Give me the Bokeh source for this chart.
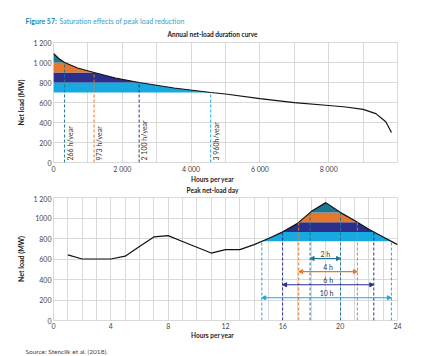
import numpy as np
from bokeh.plotting import figure
from bokeh.layouts import column
from bokeh.models import Arrow, NormalHead, FixedTicker, SingleIntervalTicker, Range1d
from bokeh.embed import file_html
from bokeh.resources import INLINE
from bokeh.core.properties import value

# ---------------- data ----------------
# Annual net-load duration curve
dur_hours = [0, 150, 322, 700, 1180, 1800, 2490, 3500, 4570, 5000, 6000, 7000, 8000, 8500, 9000, 9370, 9660, 9825]
dur_load = [1090, 1040, 1000, 945, 900, 845, 800, 745, 700, 685, 638, 598, 570, 555, 531, 489, 408, 300]
dur_thresholds = [700, 800, 900, 1000]
dur_labels = ["3 960h/year", "2 100 h/year", "973 h/year", "266 h/year"]

# Peak net-load day
day_hours = list(range(1, 25))
day_load = [640, 600, 600, 600, 628, 722, 815, 828, 771, 715, 658, 692,
            692, 740, 800, 865, 945, 1065, 1150, 1055, 975, 890, 815, 740]
day_thresholds = [772, 864, 958, 1053]
day_labels = ["10 h", "6 h", "4 h", "2 h"]
day_peak_from_hour = 13  # evening peak window that is shaved

top_xticks = [0, 2000, 4000, 6000, 8000]
top_xlabels = ["0", "2 000", "4 000", "6 000", "8 000"]
top_ylabels = ["0", "200", "400", "600", "800", "1 000", "1 200"]
bot_xticks = [0, 4, 8, 12, 16, 20, 24]
bot_ylabels = ["0", "200", "400", "600", "800", "1000", "1 200"]
yticks = [0, 200, 400, 600, 800, 1000, 1200]

band_colors = ["#18a9e1", "#2a2f8b", "#e5782c", "#1c7696"]
FONT = "Lato"
GRID = "#d9d9d9"
W = 425


def crossings(xs, ys, t):
    out = []
    for i in range(len(xs) - 1):
        y0, y1 = ys[i], ys[i + 1]
        if y0 == t:
            out.append(xs[i])
        elif (y0 - t) * (y1 - t) < 0:
            out.append(xs[i] + (t - y0) * (xs[i + 1] - xs[i]) / (y1 - y0))
    if ys[-1] == t:
        out.append(xs[-1])
    return out


def style(p, xticks, xlabels, ylabels, grid_interval):
    p.outline_line_color = GRID
    p.xaxis.ticker = FixedTicker(ticks=xticks)
    p.xaxis.major_label_overrides = {t: l for t, l in zip(xticks, xlabels)}
    p.yaxis.ticker = FixedTicker(ticks=yticks)
    p.yaxis.major_label_overrides = {t: l for t, l in zip(yticks, ylabels)}
    p.xgrid.ticker = SingleIntervalTicker(interval=grid_interval)
    p.ygrid.ticker = FixedTicker(ticks=yticks)
    for g in (p.xgrid, p.ygrid):
        g.grid_line_color = GRID
        g.grid_line_width = 1
    for ax in (p.xaxis, p.yaxis):
        ax.axis_line_color = None
        ax.major_tick_line_color = None
        ax.minor_tick_line_color = None
        ax.major_tick_out = 0
        ax.major_tick_in = 0
        ax.minor_tick_out = 0
        ax.minor_tick_in = 0
        ax.major_label_text_font = FONT
        ax.major_label_text_font_size = "7px"
        ax.major_label_text_color = "#444444"
        ax.major_label_standoff = 2
    p.yaxis.axis_label = "Net load (MW)"
    p.yaxis.axis_label_text_font = FONT
    p.yaxis.axis_label_text_font_size = "7px"
    p.yaxis.axis_label_text_font_style = "bold"
    p.yaxis.axis_label_text_color = "#222222"
    p.yaxis.axis_label_standoff = 5


def draw_bands(p, xs, ys, thresholds):
    cross = {t: crossings(xs, ys, t) for t in thresholds}
    allx = sorted(set(list(xs) + [c for t in thresholds for c in cross[t]]))
    ally = np.interp(allx, xs, ys)
    tops = thresholds[1:] + [max(ys)]
    for lo, hi, c in zip(thresholds, tops, band_colors):
        y2 = np.clip(ally, lo, hi)
        p.varea(x=allx, y1=[lo] * len(allx), y2=y2, fill_color=c, fill_alpha=1)
    return cross


def strip(h):
    s = figure(width=W, height=h, output_backend="svg", toolbar_location=None,
               x_range=Range1d(0, W), y_range=Range1d(h, 0),
               x_axis_location=None, y_axis_location=None, frame_align=False,
               min_border=0, min_border_left=0, min_border_right=0,
               min_border_top=0, min_border_bottom=0)
    s.grid.visible = False
    s.outline_line_color = None
    return s


def stext(s, x, y, txt, size="7px", bold=False, color="#222222", align="left"):
    s.text(x=[x], y=[y], text=[txt], text_align=align, text_baseline="middle",
           text_font=value(FONT), text_font_size=size,
           text_font_style="bold" if bold else "normal", text_color=color)


# ---------------- header ----------------
head = strip(38)
stext(head, 25, 20, "Figure 57:", size="7px", bold=True, color="#1a86b0")
stext(head, 59, 20, "Saturation effects of peak load reduction", size="7px", color="#3a9cc6")
stext(head, 212, 34, "Annual net-load duration curve", size="6.5px", bold=True, align="center")

# ---------------- top chart ----------------
p1 = figure(width=W, height=137, output_backend="svg", toolbar_location=None,
            x_range=Range1d(0, 10000), y_range=Range1d(0, 1200),
            min_border_left=53, min_border_right=28, min_border_top=4, min_border_bottom=10)
style(p1, top_xticks, top_xlabels, top_ylabels, 1000)
cross1 = draw_bands(p1, dur_hours, dur_load, dur_thresholds)
p1.line(dur_hours, dur_load, line_color="#111111", line_width=1.2)
for t, c, txt in zip(dur_thresholds, band_colors, dur_labels):
    cx = cross1[t][0]
    p1.segment(x0=[cx], y0=[0], x1=[cx], y1=[t], line_color=c, line_width=1, line_dash="3 2")
    p1.text(x=[cx], y=[20], text=[txt], angle=np.pi / 2, text_align="left",
            text_baseline="top", x_offset=1, text_font=value(FONT),
            text_font_size="7px", text_color="#333333")

# ---------------- middle strip ----------------
mid = strip(19)
stext(mid, 212, 4, "Hours per year", size="6.5px", bold=True, align="center")
stext(mid, 212, 15, "Peak net-load day", size="6.5px", bold=True, align="center")

# ---------------- bottom chart ----------------
p2 = figure(width=W, height=137, output_backend="svg", toolbar_location=None,
            x_range=Range1d(0, 24), y_range=Range1d(0, 1200),
            min_border_left=53, min_border_right=28, min_border_top=3, min_border_bottom=11)
style(p2, bot_xticks, [str(t) for t in bot_xticks], bot_ylabels, 1)
peak_x = [h for h in day_hours if h >= day_peak_from_hour]
peak_y = [l for h, l in zip(day_hours, day_load) if h >= day_peak_from_hour]
cross2 = draw_bands(p2, peak_x, peak_y, day_thresholds)
p2.line(day_hours, day_load, line_color="#111111", line_width=1.2)
arrow_y = [222, 349, 477, 605]
for t, c, txt, ay in zip(day_thresholds, band_colors, day_labels, arrow_y):
    xl, xr = cross2[t][0], cross2[t][-1]
    p2.segment(x0=[xl, xr], y0=[0, 0], x1=[xl, xr], y1=[t, t], line_color=c,
               line_width=1, line_dash="3 2")
    p2.add_layout(Arrow(x_start=xl, y_start=ay, x_end=xr, y_end=ay, line_color=c, line_width=1.2,
                        start=NormalHead(size=4, fill_color=c, line_color=c),
                        end=NormalHead(size=4, fill_color=c, line_color=c)))
    p2.text(x=[(xl + xr) / 2], y=[ay + 45], text=[txt], text_align="center",
            text_baseline="middle", text_font=value(FONT), text_font_size="7px",
            text_color="#333333")

# ---------------- footer ----------------
foot = strip(25)
stext(foot, 212, 4, "Hours per year", size="6.5px", bold=True, align="center")
stext(foot, 25, 20, "Source: Stenclik et al. (2018).", size="6.5px", color="#444444")

layout = column(head, p1, mid, p2, foot)
open("out.html", "w").write(file_html(layout, INLINE))
